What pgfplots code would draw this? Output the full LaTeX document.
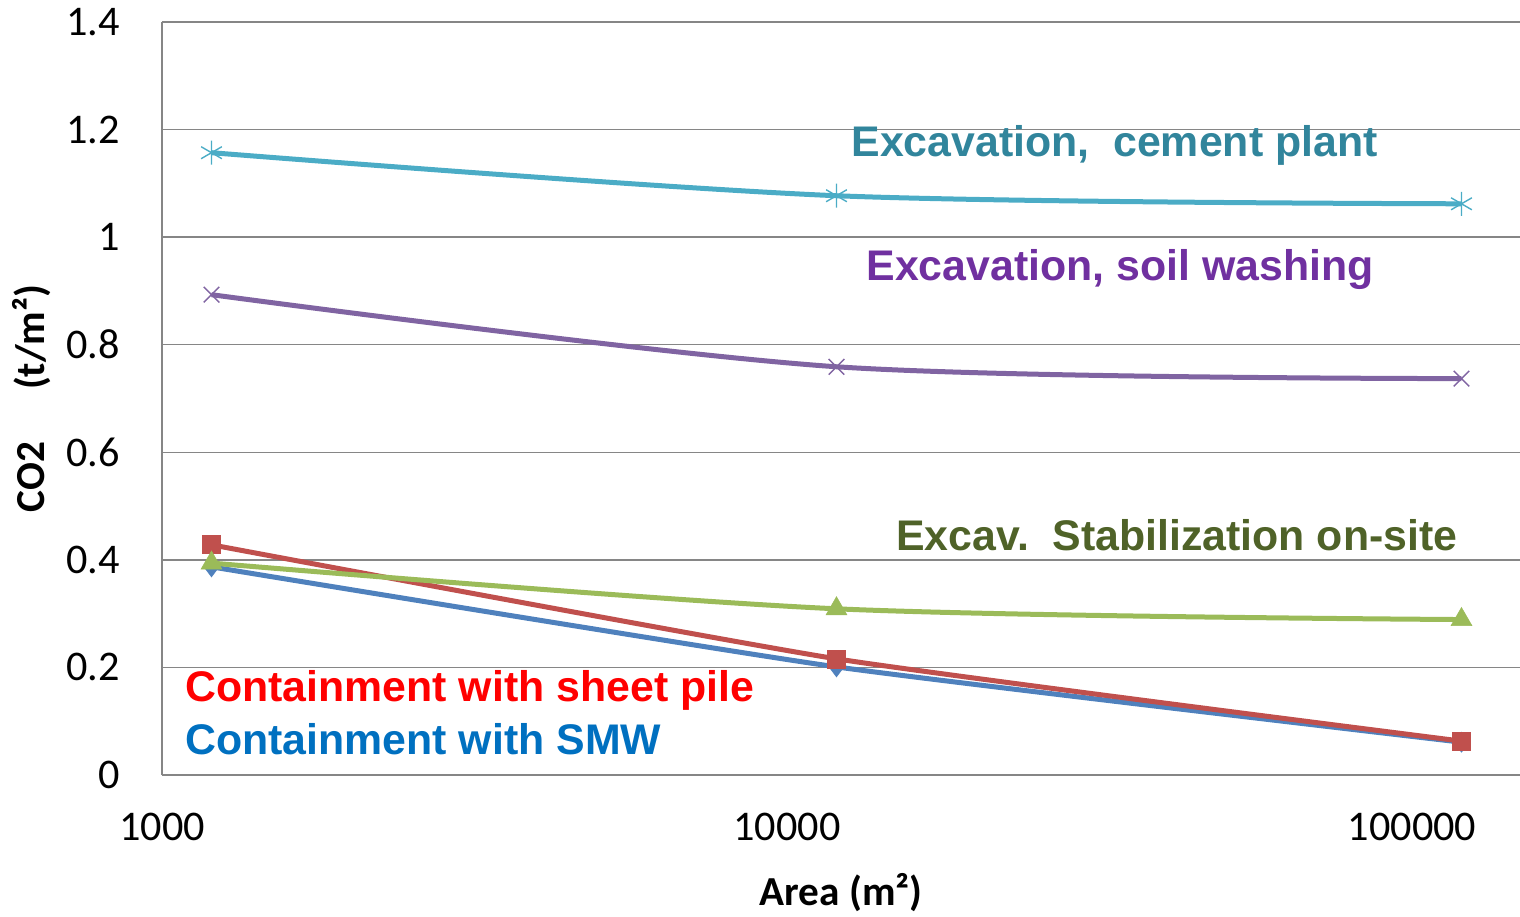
\documentclass[border=0pt]{standalone}
\usepackage{pgfplots}
\pgfplotsset{compat=1.18}
\usepackage{fontspec}
\setmainfont{Carlito}
\newfontfamily\arialf{Liberation Sans}
\definecolor{gridg}{RGB}{134,134,134}
\definecolor{cCem}{RGB}{75,172,198}
\definecolor{cSoil}{RGB}{128,100,162}
\definecolor{cStab}{RGB}{155,187,89}
\definecolor{cSheet}{RGB}{192,80,77}
\definecolor{cSMW}{RGB}{79,129,189}
\definecolor{tCem}{RGB}{49,133,156}
\definecolor{tSoil}{RGB}{112,48,160}
\definecolor{tStab}{RGB}{79,98,40}
\definecolor{tSheet}{RGB}{255,0,0}
\definecolor{tSMW}{RGB}{0,112,192}
\begin{document}
\begin{tikzpicture}
\begin{axis}[
  anchor=south west, at={(0,0)},
  scale only axis,
  width=679bp, height=376.5bp,
  xmode=log, xmin=1000, xmax=148900,
  ymin=0, ymax=1.4,
  xtick={1000,10000,100000},
  xticklabels={1000,10000,100000},
  ytick={0,0.2,0.4,0.6,0.8,1,1.2,1.4},
  yticklabels={0,0.2,0.4,0.6,0.8,1,1.2,1.4},
  minor xtick={}, 
  major tick length=0, minor tick length=0,
  axis x line*=bottom, axis y line*=left,
  axis line style={gridg, line width=0.75bp, -},
  ymajorgrids, major grid style={gridg, line width=0.75bp},
  tick label style={font=\fontsize{21.2}{24}\selectfont},
  yticklabel style={anchor=east, xshift=-17.5bp},
  xticklabel style={anchor=north, yshift=-15.5bp},
  /pgf/number format/assume math mode=true,
  every axis y label/.style={at={(axis description cs:-0.0957,0.5)}, rotate=90, anchor=center, font=\fontsize{20.7}{24}\selectfont\bfseries},
  every axis x label/.style={at={(axis description cs:0.5,0)}, anchor=center, yshift=-59bp, font=\fontsize{20.7}{24}\selectfont\bfseries},
  ylabel={CO2\hspace{26bp}(t/m²)},
  xlabel={Area (m²)},
  clip=false,
]
\addplot[color=cSMW, line width=2.5bp, smooth, tension=0.3, mark=diamond*, mark size=5bp, mark options={fill=cSMW, draw=cSMW, line width=0.3bp}]
  coordinates {(1200,0.387) (12000,0.201) (120000,0.061)};
\addplot[color=cSheet, line width=2.5bp, smooth, tension=0.3, mark=square*, mark size=4.5bp, mark options={fill=cSheet, draw=cSheet, line width=0.3bp}]
  coordinates {(1200,0.428) (12000,0.216) (120000,0.063)};
\addplot[color=cStab, line width=2.5bp, smooth, mark=triangle*, mark size=6bp, mark options={fill=cStab, draw=cStab, line width=0.3bp}]
  coordinates {(1200,0.394) (12000,0.309) (120000,0.289)};
\addplot[color=cSoil, line width=2.5bp, smooth, mark=x, mark size=5.5bp, mark options={draw=cSoil, line width=0.7bp}]
  coordinates {(1200,0.893) (12000,0.759) (120000,0.737)};
\addplot[color=cCem, line width=2.5bp, smooth, mark=asterisk, mark size=6bp, mark options={draw=cCem, line width=0.7bp}]
  coordinates {(1200,1.157) (12000,1.077) (120000,1.062)};
\node[anchor=west, inner sep=0pt, text=tCem, font=\fontsize{21.5}{24}\arialf\bfseries] at (axis cs:12660,1.170) {Excavation,\ \ cement plant};
\node[anchor=west, inner sep=0pt, text=tSoil, font=\fontsize{21.5}{24}\arialf\bfseries] at (axis cs:13380,0.939) {Excavation, soil washing};
\node[anchor=west, inner sep=0pt, text=tStab, font=\fontsize{21.5}{24}\arialf\bfseries] at (axis cs:14940,0.446) {Excav.\ \ Stabilization on-site};
\node[anchor=west, inner sep=0pt, text=tSheet, font=\fontsize{21.5}{24}\arialf\bfseries] at (axis cs:1088,0.158) {Containment with sheet pile};
\node[anchor=west, inner sep=0pt, text=tSMW, font=\fontsize{21.5}{24}\arialf\bfseries] at (axis cs:1088,0.066) {Containment with SMW};
\end{axis}
\pgfresetboundingbox
\path[use as bounding box] (-81bp,-71bp) rectangle (679bp,387.5bp);
\end{tikzpicture}
\end{document}
